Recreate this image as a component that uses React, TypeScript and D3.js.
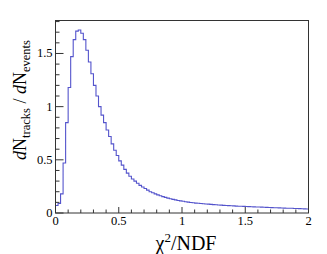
import React, { useEffect, useRef } from 'react';
import * as d3 from 'd3';

// histogram of chi2/NDF, 100 bins of 0.02 from 0 to 2
const binLow = 0;
const binWidth = 0.02;
const counts = [
  0.07, 0.09, 0.18, 0.47, 0.85, 1.18, 1.47, 1.63, 1.71, 1.72,
  1.69, 1.63, 1.53, 1.42, 1.31, 1.2, 1.1, 1.0, 0.92, 0.85,
  0.78, 0.72, 0.65, 0.59, 0.54, 0.49, 0.45, 0.41, 0.375, 0.345,
  0.32, 0.3, 0.28, 0.26, 0.245, 0.23, 0.215, 0.2, 0.19, 0.18,
  0.17, 0.162, 0.154, 0.147, 0.14, 0.134, 0.128, 0.123, 0.118, 0.114,
  0.11, 0.106, 0.102, 0.099, 0.096, 0.093, 0.091, 0.089, 0.087, 0.085,
  0.083, 0.081, 0.079, 0.077, 0.075, 0.074, 0.072, 0.071, 0.069, 0.068,
  0.067, 0.065, 0.064, 0.063, 0.062, 0.061, 0.06, 0.059, 0.058, 0.057,
  0.056, 0.055, 0.054, 0.053, 0.052, 0.051, 0.05, 0.049, 0.048, 0.047,
  0.046, 0.045, 0.044, 0.044, 0.043, 0.042, 0.041, 0.04, 0.039, 0.038,
];

const xMajor = [0, 0.5, 1, 1.5, 2];
const xMajorLabels = ['0', '0.5', '1', '1.5', '2'];
const yMajor = [0, 0.5, 1, 1.5];
const yMajorLabels = ['0', '0.5', '1', '1.5'];

const W = 327;
const H = 254;
const frame = { left: 55.5, right: 308.5, top: 20.5, bottom: 213 };
const lineColor = '#5454cc';
const font = '"Liberation Serif", "DejaVu Serif", serif';

function Histogram() {
  const svgRef = useRef<SVGSVGElement | null>(null);

  useEffect(() => {
    const svg = d3.select(svgRef.current);
    svg.selectAll('*').remove();

    const x = d3.scaleLinear().domain([0, 2]).range([frame.left, frame.right]);
    const y = d3.scaleLinear().domain([0, 1.81]).range([frame.bottom, frame.top]);

    const pts: [number, number][] = counts.map((c, i) => [binLow + i * binWidth, c]);
    pts.push([binLow + counts.length * binWidth, counts[counts.length - 1]]);

    const line = d3.line<[number, number]>()
      .x(d => x(d[0]))
      .y(d => y(d[1]))
      .curve(d3.curveStepAfter);

    svg.append('path')
      .attr('d', line(pts) as string)
      .attr('fill', 'none')
      .attr('stroke', lineColor)
      .attr('stroke-width', 1.1);

    // frame
    svg.append('rect')
      .attr('x', frame.left)
      .attr('y', frame.top)
      .attr('width', frame.right - frame.left)
      .attr('height', frame.bottom - frame.top)
      .attr('fill', 'none')
      .attr('stroke', '#333')
      .attr('stroke-width', 1);

    // x ticks (inside, pointing up)
    const xMinor = d3.range(0, 2.0001, 0.1);
    svg.append('g').selectAll('line')
      .data(xMinor)
      .enter()
      .append('line')
      .attr('x1', d => x(d))
      .attr('x2', d => x(d))
      .attr('y1', frame.bottom)
      .attr('y2', d => frame.bottom - (xMajor.some(m => Math.abs(m - d) < 1e-6) ? 6 : 3.5))
      .attr('stroke', '#333');

    svg.append('g').selectAll('text')
      .data(xMajor)
      .enter()
      .append('text')
      .attr('x', d => x(d))
      .attr('y', frame.bottom + 12)
      .attr('text-anchor', 'middle')
      .attr('font-family', font)
      .attr('font-size', 12.5)
      .text((d, i) => xMajorLabels[i]);

    // y ticks (inside, pointing right)
    const yMinor = d3.range(0, 1.80001, 0.1);
    svg.append('g').selectAll('line')
      .data(yMinor)
      .enter()
      .append('line')
      .attr('y1', d => y(d))
      .attr('y2', d => y(d))
      .attr('x1', frame.left)
      .attr('x2', d => frame.left + (yMajor.some(m => Math.abs(m - d) < 1e-6) ? 8 : 4))
      .attr('stroke', '#333');

    svg.append('g').selectAll('text')
      .data(yMajor)
      .enter()
      .append('text')
      .attr('x', frame.left - 3)
      .attr('y', d => y(d) + 4)
      .attr('text-anchor', 'end')
      .attr('font-family', font)
      .attr('font-size', 12.5)
      .text((d, i) => yMajorLabels[i]);

    // x axis title
    const xt = svg.append('text')
      .attr('x', 186)
      .attr('y', 250)
      .attr('text-anchor', 'middle')
      .attr('font-family', font)
      .attr('font-size', 20);
    xt.append('tspan').text('χ');
    xt.append('tspan').attr('dy', -8).attr('font-size', 13).text('2');
    xt.append('tspan').attr('dy', 8).text('/NDF');

    // y axis title
    const yt = svg.append('text')
      .attr('transform', 'translate(26,100) rotate(-90)')
      .attr('text-anchor', 'middle')
      .attr('font-family', font)
      .attr('font-size', 18);
    yt.append('tspan').attr('font-style', 'italic').text('d');
    yt.append('tspan').text('N');
    yt.append('tspan').attr('dy', 4).attr('font-size', 12.5).text('tracks');
    yt.append('tspan').attr('dy', -4).text(' / ');
    yt.append('tspan').attr('font-style', 'italic').text('d');
    yt.append('tspan').text('N');
    yt.append('tspan').attr('dy', 4).attr('font-size', 12.5).text('events');
  }, []);

  return (
    <svg
      ref={svgRef}
      width={W}
      height={H}
      style={{ position: 'absolute', left: 0, top: 0, background: '#fff' }}
    />
  );
}

export default function App() {
  return <Histogram />;
}
